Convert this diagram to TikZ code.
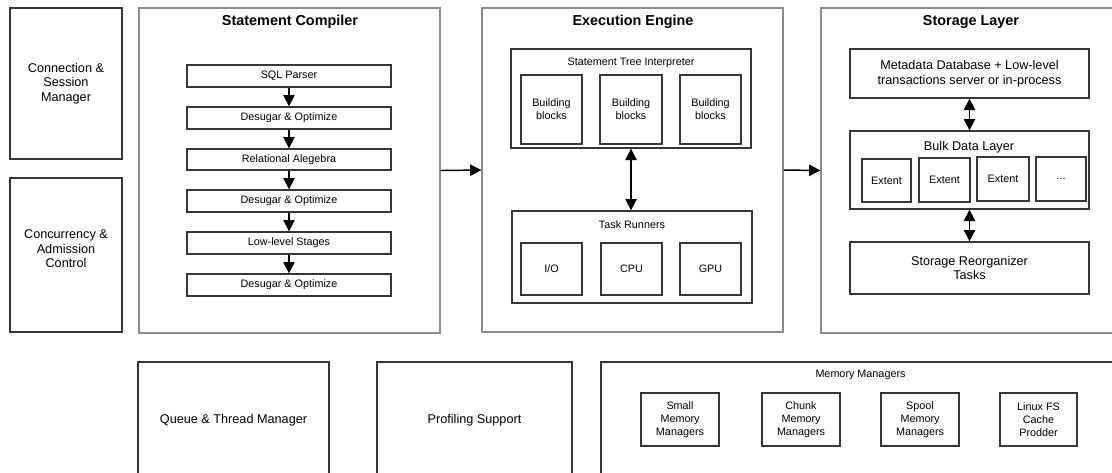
\documentclass[tikz,border=0pt]{standalone}
\usepackage{fontspec}
\setmainfont{Liberation Sans}
\usetikzlibrary{arrows.meta,fit}
\definecolor{outerline}{RGB}{140,140,140}
\definecolor{innerline}{RGB}{55,55,55}
\tikzset{
  panel/.style={draw=outerline, line width=0.8pt, inner sep=0pt},
  blk/.style={draw=innerline, line width=1pt, inner sep=0pt},
  ttl/.style={font=\fontsize{10.8}{13}\selectfont\bfseries, inner sep=0pt},
  midtxt/.style={font=\fontsize{9.5}{10.9}\selectfont, align=center, inner sep=0pt},
  smltxt/.style={font=\fontsize{8.1}{9.6}\selectfont, align=center, inner sep=0pt},
  mid/.style={label={[midtxt]center:#1}},
  sml/.style={label={[smltxt]center:#1}},
  tip/.tip={Triangle[length=8.5pt,width=8.5pt]},
  flow/.style={line width=1.1pt, -tip},
  twoway/.style={line width=1.1pt, tip-tip},
}
\begin{document}
\begin{tikzpicture}[x=0.75pt,y=-0.75pt]
\useasboundingbox (0,0) rectangle (1112,472);
\clip (0,0) rectangle (1112,472);

% left column
\node[blk, fit={(10,8) (122,159)}, mid={Connection \&\\Session\\Manager}] (conn) {};
\node[blk, fit={(10,178) (122,332)}] (conc) {};
\node[midtxt] (conc-t) at (66,249) {Concurrency \&\\Admission\\Control};

% statement compiler
\node[panel, fit={(139,8) (440,333)}] (comp) {};
\node[ttl] (comp-t) at (290,22) {Statement Compiler};
\node[blk, fit={(187,65) (391,87)}, sml={SQL Parser}] (s1) {};
\node[blk, fit={(187,107) (391,129)}, sml={Desugar \& Optimize}] (s2) {};
\node[blk, fit={(187,149) (391,170)}, sml={Relational Alegebra}] (s3) {};
\node[blk, fit={(187,190) (391,212)}, sml={Desugar \& Optimize}] (s4) {};
\node[blk, fit={(187,232) (391,254)}, sml={Low-level Stages}] (s5) {};
\node[blk, fit={(187,274) (391,296)}, sml={Desugar \& Optimize}] (s6) {};
\foreach \a/\b in {s1/s2,s2/s3,s3/s4,s4/s5,s5/s6}
  \draw[flow] (\a.south) -- (\b.north);

% execution engine
\node[panel, fit={(482,8) (783,332)}] (eng) {};
\node[ttl] (eng-t) at (633,22) {Execution Engine};
\node[blk, fit={(511,49) (751,148)}] (interp) {};
\node[smltxt] (interp-t) at (631,63) {Statement Tree Interpreter};
\node[blk, fit={(521,75) (582,144)}, sml={Building\\blocks}] (bb1) {};
\node[blk, fit={(600,75) (662,144)}, sml={Building\\blocks}] (bb2) {};
\node[blk, fit={(680,75) (741,144)}, sml={Building\\blocks}] (bb3) {};
\node[blk, fit={(512,211) (752,303)}] (task) {};
\node[smltxt] (task-t) at (632,225) {Task Runners};
\node[blk, fit={(521,243) (582,295)}, sml={I/O}] (io) {};
\node[blk, fit={(601,243) (662,295)}, sml={CPU}] (cpu) {};
\node[blk, fit={(680,243) (741,295)}, sml={GPU}] (gpu) {};
\draw[twoway] (interp.south) -- (interp.south |- task.north);

% storage layer
\node[panel, fit={(821,8) (1121,333)}] (stor) {};
\node[ttl] (stor-t) at (971,22) {Storage Layer};
\node[blk, fit={(850,49) (1089,98)}, mid={Metadata Database + Low-level\\transactions server or in-process}] (meta) {};
\node[blk, fit={(850,131) (1089,209)}] (bulk) {};
\node[midtxt] (bulk-t) at (969,147) {Bulk Data Layer};
\node[blk, fit={(862,159) (911,202)}, sml={Extent}] (ext1) {};
\node[blk, fit={(919,158) (970,202)}, sml={Extent}] (ext2) {};
\node[blk, fit={(977,157) (1029,201)}, sml={Extent}] (ext3) {};
\node[blk, fit={(1036,157) (1086,201)}, sml={...}] (ext4) {};
\node[blk, fit={(850,242) (1089,294)}, mid={Storage Reorganizer\\Tasks}] (reorg) {};
\draw[twoway] (meta.south) -- (bulk.north);
\draw[twoway] (bulk.south) -- (reorg.north);

% flow between the three stages
\draw[flow] (comp.east) -- (eng.west);
\draw[flow] (eng.east) -- (stor.west);

% bottom row
\node[blk, fit={(138,362) (329,482)}] (queue) {};
\node[midtxt] (queue-t) at (233.5,420) {Queue \& Thread Manager};
\node[blk, fit={(377,362) (572,482)}] (prof) {};
\node[midtxt] (prof-t) at (474.5,420) {Profiling Support};
\node[blk, fit={(601,362) (1121,482)}] (mem) {};
\node[smltxt] (mem-t) at (860.5,375) {Memory Managers};
\node[blk, fit={(641,393) (719,446)}, sml={Small\\Memory\\Managers}] (mm1) {};
\node[blk, fit={(762,393) (840,446)}, sml={Chunk\\Memory\\Managers}] (mm2) {};
\node[blk, fit={(881,393) (959,446)}, sml={Spool\\Memory\\Managers}] (mm3) {};
\node[blk, fit={(1000,393) (1077,446)}, sml={Linux FS\\Cache\\Prodder}] (mm4) {};
\end{tikzpicture}
\end{document}
